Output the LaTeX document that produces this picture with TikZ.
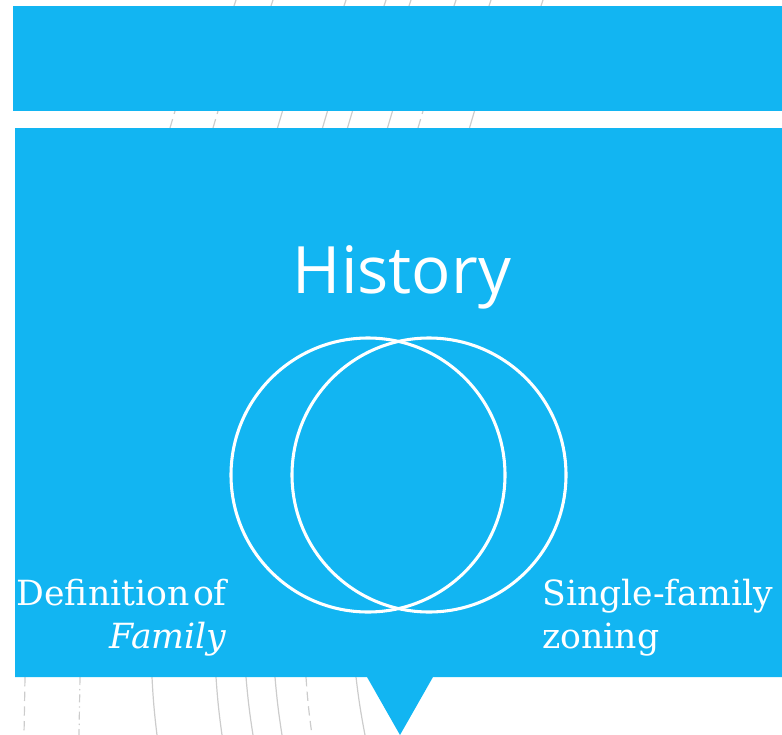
\documentclass[tikz,border=0pt]{standalone}
\usepackage{fontspec}
\setmainfont{DejaVu Serif}
\newfontfamily\titlefont{Open Sans}
\usepackage{tikz}

\definecolor{skyblue}{RGB}{18,181,242}

\begin{document}
\begin{tikzpicture}[x=0.75pt,y=-0.75pt]
% Define common styles
\tikzset{
    panel/.style={fill=skyblue, draw=none},
    ring/.style={draw=white, line width=2.3pt},
    bgline/.style={draw=black!20, line width=0.9pt},
    bgdash/.style={bgline, dash pattern=on 7pt off 4pt},
    label/.style={text=white, font=\fontsize{26}{30}\selectfont, inner sep=0pt}
}
\useasboundingbox (0,0) rectangle (782,735);

% Background strokes behind the panels
\foreach \x in {272,345,385,410,455,542}
    \draw[bgline] (\x-1,6) -- (\x+1,0);
\draw[bgdash] (234,6) -- (236,0);
\draw[bgdash] (489,6) -- (491,0);
\foreach \x in {280,325,350,390,472}
    \draw[bgline] (\x-2.5,128) -- (\x+2.5,111);
\draw[bgdash] (170,128) -- (175,111);
\draw[bgdash] (213,128) -- (218,111);
\draw[bgdash] (418,128) -- (423,111);
\draw[bgdash] (25,677) -- (24,735);
\draw[bgline, dash pattern=on 6pt off 3pt on 1pt off 3pt] (80,677) -- (79,735);
\draw[bgline] (152,677) to[bend right=2] (157,735);
\draw[bgline] (216,677) to[bend right=2] (222,735);
\draw[bgline] (246,677) to[bend right=2] (253,735);
\draw[bgline] (275,677) to[bend right=2] (282,735);
\draw[bgdash] (306,677) to[bend right=2] (312,735);
\draw[bgline] (356,677) to[bend right=2] (365,735);

% Header bar
\fill[panel] (13,6) rectangle (782,111);

% Main panel with pointer
\fill[panel] (15,128) -- (782,128) -- (782,677) -- (433,677) -- (400,735)
    -- (367,677) -- (15,677) -- cycle;

% Title
\node[text=white, inner sep=0pt, anchor=base,
      font=\titlefont\fontsize{49}{56}\selectfont] (title) at (402,293) {History};

% Overlapping circles
\draw[ring] (368,475) circle (137);
\draw[ring] (429,475) circle (137);

% Labels
\node[label, anchor=base east] (def) at (227,605) {Definition\hspace{2.5pt}of};
\node[label, anchor=base east] (fam) at (227,648) {\textit{Family}};
\node[label, anchor=base west] (single) at (542,605) {Single-family};
\node[label, anchor=base west] (zone) at (542,648) {zoning};

\end{tikzpicture}
\end{document}
